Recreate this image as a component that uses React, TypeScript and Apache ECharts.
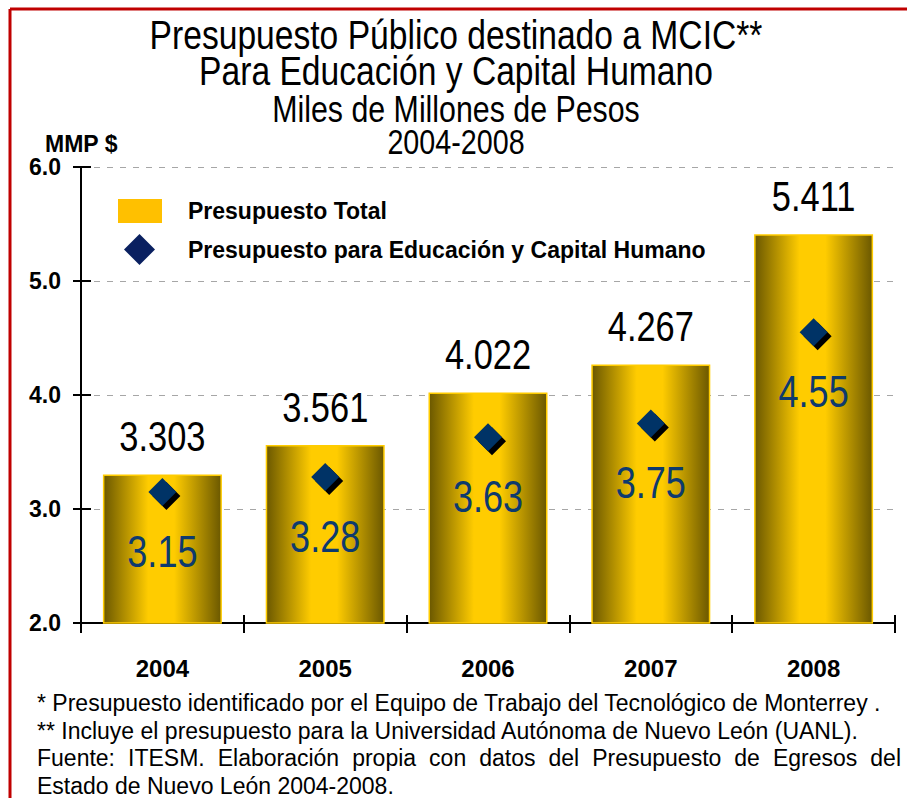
import React, { useEffect, useRef } from "react";
import * as echarts from "echarts";

const years = ["2004", "2005", "2006", "2007", "2008"];
const totalBudget = [3.303, 3.561, 4.022, 4.267, 5.411];
const educationBudget = [3.15, 3.28, 3.63, 3.75, 4.55];
const yMin = 2;
const yMax = 6;
const yInterval = 1;
const seriesNames = ["Presupuesto Total", "Presupuesto para Educación y Capital Humano"];
const titleLines = [
  "Presupuesto Público destinado a MCIC**",
  "Para Educación y Capital Humano",
  "Miles de Millones de Pesos",
  "2004-2008",
];
const unitLabel = "MMP $";
const footnotes = [
  "* Presupuesto identificado por el Equipo de Trabajo del Tecnológico de Monterrey .",
  "** Incluye el presupuesto para la Universidad Autónoma de Nuevo León (UANL).",
  "Fuente: ITESM. Elaboración propia con datos del Presupuesto de Egresos del",
  "Estado de Nuevo León 2004-2008.",
];

const SANS = "'Liberation Sans', Arial, sans-serif";
const NARROW_SCALE = 0.82;

function titleGraphics(): any[] {
  const ys = [34.5, 71, 108.5, 141.5];
  const sizes = [41, 41, 37, 35];
  return titleLines.map((t, i) => ({
    type: "text",
    x: 456,
    y: ys[i],
    scaleX: NARROW_SCALE,
    style: {
      text: t,
      fontFamily: SANS,
      fontSize: sizes[i],
      fill: "#000",
      textAlign: "center",
      textVerticalAlign: "middle",
    },
  }));
}

function footnoteGraphics(): any[] {
  const fontSize = 23;
  const left = 37;
  const ys = [703, 731, 758, 786];
  const justifyRight = [null, null, 901, null];
  const canvas = document.createElement("canvas");
  const ctx = canvas.getContext("2d") as CanvasRenderingContext2D;
  ctx.font = `${fontSize}px 'Liberation Sans', Arial, sans-serif`;
  const out: any[] = [];
  footnotes.forEach((line, i) => {
    const right = justifyRight[i];
    const base = { fontSize, fontFamily: SANS, fill: "#000", textVerticalAlign: "middle" };
    if (right == null) {
      out.push({ type: "text", x: left, y: ys[i], style: { ...base, text: line } });
    } else {
      const words = line.split(" ");
      const widths = words.map((w) => ctx.measureText(w).width);
      const total = widths.reduce((a, b) => a + b, 0);
      const gap = (right - left - total) / (words.length - 1);
      let x = left;
      words.forEach((w, k) => {
        out.push({ type: "text", x, y: ys[i], style: { ...base, text: w } });
        x += widths[k] + gap;
      });
    }
  });
  return out;
}

export default function App() {
  const ref = useRef<HTMLDivElement>(null);
  useEffect(() => {
    if (!ref.current) return;
    const chart = echarts.init(ref.current, null, { renderer: "svg" });
    const barGradient = new echarts.graphic.LinearGradient(0, 0, 1, 0, [
      { offset: 0, color: "#6b5800" },
      { offset: 0.38, color: "#ffcc00" },
      { offset: 0.6, color: "#ffcc00" },
      { offset: 1, color: "#6b5800" },
    ]);
    const option: any = {
      animation: false,
      backgroundColor: "#ffffff",
      legend: [
        {
          data: [{ name: seriesNames[0], icon: "rect", itemStyle: { color: "#ffc000", borderWidth: 0 } }],
          left: 118,
          top: 199,
          padding: 0,
          itemWidth: 44,
          itemHeight: 24,
          selectedMode: false,
          textStyle: { fontFamily: SANS, fontWeight: "bold", fontSize: 23, color: "#000", padding: [0, 0, 0, 21] },
        },
        {
          data: [{ name: seriesNames[1], icon: "diamond", itemStyle: { color: "#0a2060", borderWidth: 0 } }],
          left: 124,
          top: 234,
          padding: 0,
          itemWidth: 31,
          itemHeight: 31,
          selectedMode: false,
          textStyle: { fontFamily: SANS, fontWeight: "bold", fontSize: 23, color: "#000", padding: [0, 0, 0, 28] },
        },
      ],
      grid: { left: 81, right: 12, top: 167, bottom: 175, containLabel: false },
      xAxis: [
        {
          type: "category",
          data: years,
          position: "bottom",
          boundaryGap: true,
          axisLine: { show: true, lineStyle: { color: "#000", width: 2 } },
          axisTick: { show: true, alignWithLabel: false, length: 10, lineStyle: { color: "#000", width: 2 } },
          axisLabel: { margin: 33, fontFamily: SANS, fontWeight: "bold", fontSize: 24, color: "#000" },
          splitLine: { show: false },
        },
        {
          type: "category",
          data: years,
          position: "bottom",
          boundaryGap: true,
          axisLine: { show: false },
          axisTick: { show: true, inside: true, alignWithLabel: false, length: 8, lineStyle: { color: "#000", width: 2 } },
          axisLabel: { show: false },
          splitLine: { show: false },
        },
      ],
      yAxis: [
        {
          type: "value",
          min: yMin,
          max: yMax,
          interval: yInterval,
          position: "left",
          axisLine: { show: true, lineStyle: { color: "#000", width: 2 } },
          axisTick: { show: true, length: 8, lineStyle: { color: "#000", width: 2 } },
          axisLabel: {
            margin: 20,
            formatter: (v: number) => v.toFixed(1),
            fontFamily: SANS,
            fontWeight: "bold",
            fontSize: 23,
            color: "#000",
          },
          splitLine: { show: true, lineStyle: { color: "#a6a6a6", width: 1, type: [6, 7] } },
        },
        {
          type: "value",
          min: yMin,
          max: yMax,
          interval: yInterval,
          position: "left",
          axisLine: { show: false },
          axisTick: { show: true, inside: true, length: 10, lineStyle: { color: "#000", width: 2 } },
          axisLabel: { show: false },
          splitLine: { show: false },
        },
      ],
      series: [
        {
          name: seriesNames[0],
          type: "bar",
          data: totalBudget,
          barWidth: 119,
          itemStyle: { color: barGradient, borderColor: "#ffcc00", borderWidth: 1.5 },
          z: 2,
        },
        {
          name: "sombra",
          type: "scatter",
          data: educationBudget,
          symbol: "diamond",
          symbolSize: 28,
          symbolOffset: [4, 4],
          itemStyle: { color: "#000", opacity: 1 },
          silent: true,
          z: 3,
        },
        {
          name: seriesNames[1],
          type: "scatter",
          data: educationBudget,
          symbol: "diamond",
          symbolSize: 28,
          itemStyle: { color: "#003366", opacity: 1 },
          z: 4,
        },
        {
          name: "etiquetas total",
          type: "custom",
          silent: true,
          z: 5,
          data: totalBudget.map((v, i) => [i, v]),
          renderItem: (params: any, api: any) => {
            const p = api.coord([api.value(0), api.value(1)]);
            return {
              type: "text",
              x: p[0],
              y: p[1] - 38,
              scaleX: NARROW_SCALE,
              style: {
                text: Number(api.value(1)).toFixed(3),
                fontFamily: SANS,
                fontSize: 42,
                fill: "#000",
                textAlign: "center",
                textVerticalAlign: "middle",
              },
            };
          },
        },
        {
          name: "etiquetas educación",
          type: "custom",
          silent: true,
          z: 5,
          data: educationBudget.map((v, i) => [i, v]),
          renderItem: (params: any, api: any) => {
            const p = api.coord([api.value(0), api.value(1)]);
            return {
              type: "text",
              x: p[0],
              y: p[1] + 60,
              scaleX: NARROW_SCALE,
              style: {
                text: Number(api.value(1)).toFixed(2),
                fontFamily: SANS,
                fontSize: 44,
                fill: "#0d3a6e",
                textAlign: "center",
                textVerticalAlign: "middle",
              },
            };
          },
        },
      ],
      graphic: [
        { type: "line", shape: { x1: 10, y1: 9, x2: 907, y2: 9 }, style: { stroke: "#c00000", lineWidth: 3 } },
        { type: "line", shape: { x1: 10, y1: 9, x2: 10, y2: 798 }, style: { stroke: "#c00000", lineWidth: 3 } },
        ...titleGraphics(),
        {
          type: "text",
          x: 45,
          y: 144,
          style: { text: unitLabel, fontFamily: SANS, fontWeight: "bold", fontSize: 23, fill: "#000", textVerticalAlign: "middle" },
        },
        ...footnoteGraphics(),
      ],
    };
    chart.setOption(option);
    return () => chart.dispose();
  }, []);
  return (
    <div
      ref={ref}
      style={{ position: "absolute", left: 0, top: 0, width: 907, height: 798, background: "#fff" }}
    />
  );
}
